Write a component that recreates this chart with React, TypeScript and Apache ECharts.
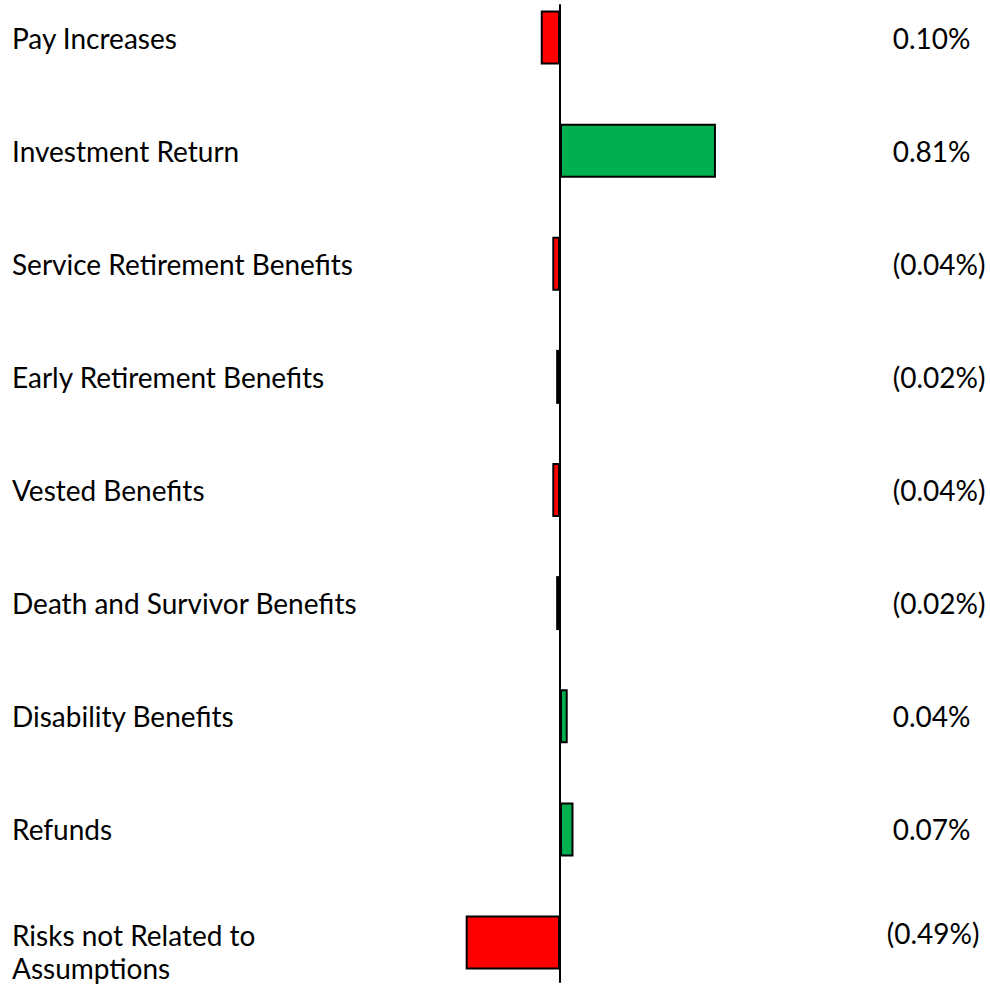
import React, { useEffect, useRef } from "react";
import * as echarts from "echarts";

const categories = [
  "Pay Increases",
  "Investment Return",
  "Service Retirement Benefits",
  "Early Retirement Benefits",
  "Vested Benefits",
  "Death and Survivor Benefits",
  "Disability Benefits",
  "Refunds",
  "Risks not Related to Assumptions",
];

const barValues = [-0.1, 0.81, -0.04, -0.02, -0.04, -0.02, 0.04, 0.07, -0.49];

const valueLabels = [
  "0.10%",
  "0.81%",
  "(0.04%)",
  "(0.02%)",
  "(0.04%)",
  "(0.02%)",
  "0.04%",
  "0.07%",
  "(0.49%)",
];

const FONT = "Lato";
const FONT_SIZE = 28;
const X_MIN = -2;
const X_MAX = 1.5;

export default function App() {
  const ref = useRef<HTMLDivElement>(null);
  useEffect(() => {
    if (!ref.current) return;
    const chart = echarts.init(ref.current, undefined, { renderer: "svg" });
    const last = categories.length - 1;
    const base = {
      color: "#000000",
      fontFamily: FONT,
      fontSize: FONT_SIZE,
    };
    const option: any = {
      animation: false,
      backgroundColor: "#ffffff",
      grid: [
        {
          left: 175,
          width: 673.75,
          top: 37.5,
          height: 905,
          containLabel: false,
          outerBoundsMode: "none",
        },
        {
          left: 175,
          width: 673.75,
          top: 5,
          height: 977,
          containLabel: false,
          outerBoundsMode: "none",
        },
      ],
      xAxis: [
        { type: "value", gridIndex: 0, min: X_MIN, max: X_MAX, show: false },
        { type: "value", gridIndex: 1, min: X_MIN, max: X_MAX, show: false },
      ],
      yAxis: [
        {
          type: "category",
          gridIndex: 0,
          inverse: true,
          boundaryGap: false,
          data: categories,
          axisLine: { show: false, onZero: false },
          axisTick: { show: false },
          splitLine: { show: false },
          axisLabel: {
            ...base,
            align: "left",
            margin: 163,
            formatter: (v: string, i: number) =>
              i === last
                ? `{s| }\n{t|${v.replace(" Assumptions", "")}}\n{t|Assumptions}`
                : v,
            rich: {
              s: { ...base, fontSize: 10, lineHeight: 17 },
              t: { ...base, lineHeight: 33 },
            },
          },
        },
        {
          type: "category",
          gridIndex: 0,
          position: "right",
          inverse: true,
          boundaryGap: false,
          data: categories,
          axisLine: { show: false, onZero: false },
          axisTick: { show: false },
          splitLine: { show: false },
          axisLabel: {
            ...base,
            align: "left",
            margin: 38,
            formatter: (_v: string, i: number) =>
              i === last
                ? `{n|${valueLabels[i]}}\n{s| }`
                : `{p|${valueLabels[i]}}`,
            rich: {
              p: { ...base, padding: [0, 0, 0, 6] },
              n: { ...base, lineHeight: 34 },
              s: { ...base, fontSize: 10, lineHeight: 20 },
            },
          },
        },
        {
          type: "value",
          gridIndex: 1,
          min: 0,
          max: 1,
          axisLine: { show: true, onZero: true, lineStyle: { color: "#000000", width: 2 } },
          axisTick: { show: false },
          axisLabel: { show: false },
          splitLine: { show: false },
        },
      ],
      series: [
        {
          type: "bar",
          xAxisIndex: 0,
          yAxisIndex: 0,
          barWidth: 54,
          clip: false,
          data: barValues.map((v) => ({
            value: v,
            itemStyle: {
              color: v < 0 ? "#FF0000" : "#00B050",
              borderColor: "#000000",
              borderWidth: 2,
            },
          })),
        },
      ],
    };
    chart.setOption(option);
    return () => chart.dispose();
  }, []);
  return (
    <div
      ref={ref}
      style={{ position: "fixed", left: 0, top: 0, width: 990, height: 988 }}
    />
  );
}
